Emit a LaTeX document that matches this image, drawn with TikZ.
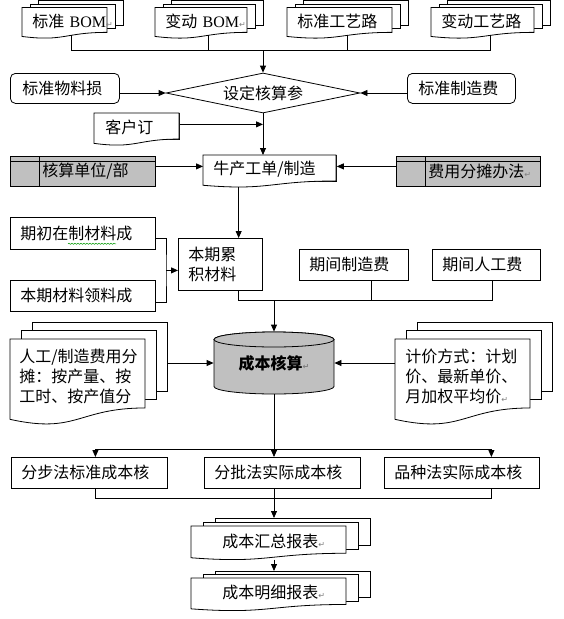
\documentclass[tikz,border=0pt]{standalone}
\usepackage{fontspec}
\setmainfont{Noto Sans CJK SC}
\newfontfamily\latfont{Liberation Serif}
\newfontfamily\symfont{DejaVu Sans}
\usetikzlibrary{shapes.geometric,arrows.meta,calc,decorations.pathmorphing}
\definecolor{boxgray}{RGB}{192,192,192}
\newcommand{\diafont}{\fontsize{16}{20}\selectfont}
\newcommand{\pmark}{{\symfont\fontsize{8}{8}\selectfont\textcolor{gray}{↵}}}

% stacked document: name, corner, width, height, dx, dy, pad, text
\newcommand{\mdoc}[8]{%
  \begin{scope}[shift={(#2)}]
    \foreach \k in {2,1}
      \draw[fill=white] ({\k*#5},{-\k*#6}) rectangle ({#3+\k*#5},{0.802*#4-\k*#6});
    \draw[fill=white] (0,0) -- (#3,0) -- (#3,{0.802*#4})
      .. controls ({0.5*#3},{0.802*#4}) and ({0.5*#3},{1.108*#4}) .. (0,{0.934*#4})
      coordinate[pos=0.4] (#1-c) coordinate[pos=0.78] (#1-s) -- cycle;
    \coordinate (#1-t) at ({2*#5},{-2*#6});
    \coordinate (#1-e) at ({#3+2*#5},{-2*#6});
    \pgfmathsetmacro\doctw{#3-2*#7}
    \node[doc, text width=\doctw pt, inner xsep=#7pt, minimum height={0.86*#4}] (#1) at (0,0) {#8};
  \end{scope}}

\tikzset{
  box/.style={draw, anchor=north west, align=left, inner xsep=10pt, inner ysep=0pt, text width=#1, font=\diafont},
  store/.style={box=#1, fill=boxgray, inner xsep=32pt, minimum height=30pt},
  doc/.style={anchor=north west, align=left, inner ysep=0pt, font=\diafont},
  decision/.style={draw, diamond, aspect=4.85, minimum width=194pt, minimum height=40pt, inner sep=0pt, font=\diafont},
  arr/.style={-{Triangle[length=7pt,width=6pt]}}
}

\begin{document}
\begin{tikzpicture}[x=1pt, y=-1pt, line width=0.8pt]
  \useasboundingbox (0,0) rectangle (563,619);

  % source documents
  \mdoc{bomstd}{22,7.5}{85}{31}{8}{3.5}{10}{\mbox{标准 {\latfont BOM}\pmark}}
  \mdoc{bomvar}{155,7.5}{92}{31}{8}{3.5}{10}{\mbox{变动 {\latfont BOM}\pmark}}
  \mdoc{routestd}{287,7.5}{105}{31}{8}{3.5}{10}{标准工艺路}
  \mdoc{routevar}{431,7.5}{103}{31}{8}{3.5}{10}{变动工艺路}

  \node[decision] (param) at (263,93) {设定核算参};
  \node[box=85pt, rounded corners=5pt, inner xsep=12pt, minimum height=30pt] (matloss) at (10,73) {标准物料损};
  \node[box=86pt, rounded corners=5pt, inner xsep=11pt, minimum height=30pt] (mfgstd) at (407,73) {标准制造费};

  \mdoc{cust}{94,113}{85}{32.5}{0}{0}{11}{客户订}
  \mdoc{order}{203,155}{133}{32.4}{0}{0}{10}{牛产工单/制造}
  \node[store=81pt] (unit) at (10,156) {核算单位/部};
  \node[store=80pt] (alloc) at (396,156) {费用分摊办法\pmark};
  \foreach \n in {unit,alloc} {
    \draw ([yshift=-5pt]\n.north west) -- ([yshift=-5pt]\n.north east);
    \draw ([xshift=29pt]\n.north west) -- ([xshift=29pt]\n.south west);
  }

  % materials and period costs
  \node[box=125pt, minimum height=32pt] (openwip) at (10,217) {期初在制材料成};
  \node[box=125pt, minimum height=31pt] (issue) at (10,280) {本期材料领料成};
  \node[box=64pt, minimum height=52pt] (accum) at (178,238) {本期累\\积材料};
  \node[box=89pt, minimum height=31pt] (ovh) at (299,249) {期间制造费};
  \node[box=88pt, minimum height=31pt] (labor) at (432,249) {期间人工费};
  \draw[green!60!black, line width=0.5pt, decorate, decoration={snake, amplitude=0.6pt, segment length=3pt}]
    ($(openwip.south west)+(58,-6)$) -- ++(48,0);

  % cost calculation
  \draw[fill=boxgray] (214,339.5) -- (214,386.5) arc[start angle=180, end angle=0, x radius=60, y radius=7.5]
    -- (334,339.5) arc[start angle=0, end angle=-180, x radius=60, y radius=7.5] -- cycle;
  \draw[fill=boxgray] (274,339.5) ellipse[x radius=60, y radius=7.5];
  \node[font=\diafont\bfseries, inner sep=0pt, minimum width=120pt, minimum height=62pt] (cost) at (274,363) {成本核算\pmark};

  \mdoc{lstack}{10,339}{135}{86}{11}{8.5}{9}{人工/制造费用分\\摊：按产量、按\\工时、按产值分}
  \mdoc{rstack}{395,339}{135}{86}{11}{8.5}{10}{计价方式：计划\\价、最新单价、\\月加权平均价\pmark}

  % methods and reports
  \node[box=136pt, minimum height=31pt] (step) at (11,457) {分步法标准成本核};
  \node[box=136pt, minimum height=31pt] (batch) at (204,457) {分批法实际成本核};
  \node[box=135pt, minimum height=31pt] (kind) at (384,457) {品种法实际成本核};
  \mdoc{sumrep}{191,526}{155}{34}{12}{4}{31}{成本汇总报表\pmark}
  \mdoc{detrep}{191,578}{155}{33}{12}{3.5}{31}{成本明细报表\pmark}

  % connectors
  \coordinate (bus1) at ($(param.north)+(0,-22)$);
  \draw (bomstd-c) |- (bus1) -| (routevar-c);
  \foreach \n in {bomvar,routestd}
    \draw (\n-c) -- (\n-c |- bus1);
  \draw[arr] (bus1) -- (param.north);
  \draw[arr] (matloss.east |- param) -- (param.west);
  \draw[arr] (mfgstd.west |- param) -- (param.east);
  \draw[arr] (param.south) -- (param.south |- order.north);
  \draw[arr] ([yshift=3pt]cust.east) -- ([yshift=3pt]cust.east -| param.south);
  \draw[arr] ([yshift=5pt]unit.east) -- ([yshift=5pt]unit.east -| order.west);
  \draw[arr] ([yshift=5pt]alloc.west) -- ([yshift=5pt]alloc.west -| order.east);
  \draw[arr] (order-s) -- (order-s |- accum.north);

  \coordinate (lj) at ($(accum.west)+(-12,6)$);
  \draw ([yshift=-5pt]openwip.east) -| (lj) |- ([yshift=-6pt]issue.east);
  \draw[arr] (lj) -- (lj -| accum.west);

  \coordinate (bus2) at ($(cost.north)+(0,-31)$);
  \draw (order-s |- accum.south) |- (bus2) -| ([xshift=6pt]labor.south);
  \draw ([xshift=17.5pt]ovh.south) -- ([xshift=17.5pt]ovh.south |- bus2);
  \draw[arr] (bus2) -- (cost.north);
  \draw[arr] (cost.west -| lstack-e) -- (cost.west);
  \draw[arr] (cost.east -| rstack.west) -- (cost.east);

  \coordinate (bus3) at ($(cost.south)+(0,55)$);
  \draw[arr] (cost.south) -- (cost.south |- batch.north);
  \draw[arr] (bus3) -| ([xshift=6pt]step.north);
  \draw[arr] (bus3) -| ([xshift=29.5pt]kind.north);
  \coordinate (bus4) at ($(cost.south |- batch.south)+(0,10)$);
  \draw ([xshift=6pt]step.south) |- (bus4) -| ([xshift=29.5pt]kind.south);
  \draw[arr] (cost.south |- batch.south) -- (cost.south |- sumrep-t);
  \draw[arr] (cost.south |- sumrep-s) -- (cost.south |- detrep-t);
\end{tikzpicture}
\end{document}
